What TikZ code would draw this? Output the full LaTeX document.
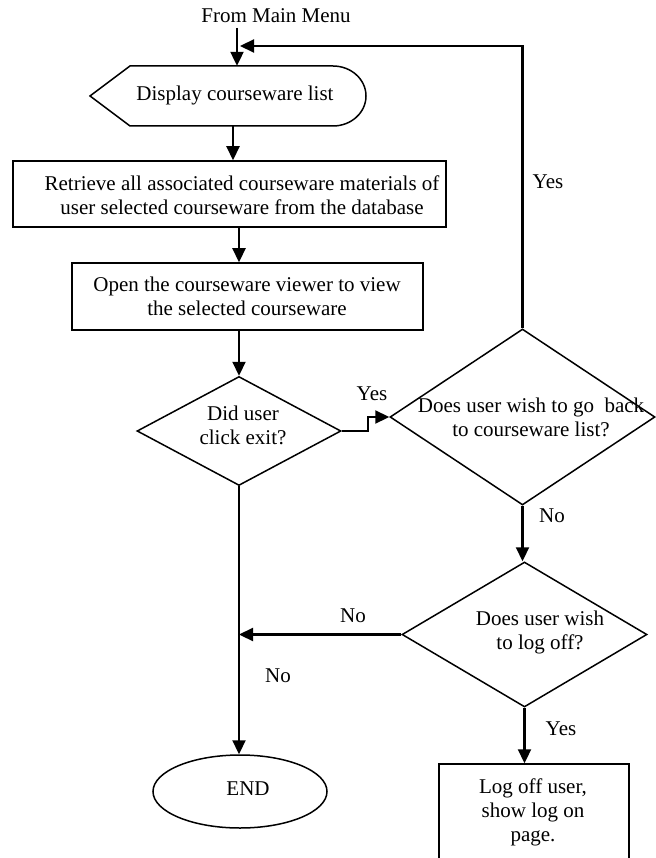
\documentclass[tikz,border=0pt]{standalone}
\usepackage{fontspec}
\setmainfont{Liberation Serif}
\usetikzlibrary{shapes.geometric,arrows.meta}

\begin{document}
\begin{tikzpicture}[x=1pt,y=-1pt,
  font=\fontsize{21}{24}\selectfont,
  outline/.style={draw, line width=1.5pt, inner sep=0pt},
  flowbox/.style={outline, rectangle},
  decision/.style={outline, diamond},
  terminal/.style={outline, ellipse},
  txt/.style={inner sep=0pt, align=center},
  lbl/.style={inner sep=0pt, anchor=base},
  conn/.style={line width=2.2pt, -{Triangle[length=14pt,width=13pt]}},
]
\useasboundingbox (0,0) rectangle (655,858);

% ---- shapes ----
\node[inner sep=0pt, minimum width=276pt, minimum height=60pt] (disp) at (228,96) {};
\draw[line width=1.5pt, line join=miter]
  (90,96) -- (130,66) -- (333,66)
  .. controls (351.2,66) and (366,79.4) .. (366,96)
  .. controls (366,112.6) and (351.2,126) .. (333,126)
  -- (130,126) -- cycle;

\node[flowbox, minimum width=433pt, minimum height=66pt] (box1) at (229.5,194) {};
\node[flowbox, minimum width=351pt, minimum height=67pt] (box2) at (247.5,296.5) {};
\node[decision, minimum width=204pt, minimum height=109pt] (d1) at (239,431) {};
\node[decision, minimum width=265pt, minimum height=176pt] (d2) at (522.5,417) {};
\node[decision, minimum width=245pt, minimum height=145pt] (d3) at (524.5,634.5) {};
\node[terminal, minimum width=174pt, minimum height=73pt] (end) at (240,791.5) {};
\node[flowbox, minimum width=190pt, minimum height=96pt] (logoff) at (534,812) {};

% ---- texts ----
\node[lbl] (from) at (276,23) {From Main Menu};
\node[lbl] (disptext) at (235,101) {Display courseware list};
\node[txt] (box1text) at (242,198.1)
  {\strut Retrieve all associated courseware materials of\\
   \strut user selected courseware from the database};
\node[txt] (box2text) at (247,298.8)
  {\strut Open the courseware viewer to view\\
   \strut the selected courseware};
\node[txt] (d1text) at (243,428)
  {\strut Did user\\ \strut click exit?};
\node[txt] (d2text) at (531,419.6)
  {\strut Does user wish to go~ back\\ \strut to courseware list?};
\node[txt] (d3text) at (540,633)
  {\strut Does user wish\\ \strut to log off?};
\node[lbl] (endtext) at (248,795) {END};
\node[txt] (logofftext) at (533,813)
  {\strut Log off user,\\ \strut show log on\\ \strut page.};

% ---- connector labels ----
\node[lbl] (yes1) at (372,400) {Yes};
\node[lbl] (yes2) at (548,189) {Yes};
\node[lbl] (no1) at (552,522) {No};
\node[lbl] (no2) at (353,622) {No};
\node[lbl] (no3) at (278,682) {No};
\node[lbl] (yes3) at (561,735) {Yes};

% ---- connectors ----
\coordinate (entry) at (237,28);
\coordinate (back) at (240,46);
\draw[conn] (entry) -- (entry |- disp.north);
\draw[conn] (d2.north) |- (back);
\draw[conn] ([xshift=5pt]disp.south) -- ([xshift=5pt]disp.south |- box1.north);
\draw[conn] ([xshift=9.5pt]box1.south) -- ([xshift=9.5pt]box1.south |- box2.north);
\draw[conn] (d1.north |- box2.south) -- (d1.north);
\draw[conn] (d1.south) -- (d1.south |- end.north);
\draw[conn] (d1.east) -- ++(26,0) |- (d2.west);
\draw[conn] (d2.south) -- (d2.south |- d3.north);
\draw[conn] (d3.west) -- (d3.west -| d1.south);
\draw[conn] (d3.south) -- (d3.south |- logoff.north);
\end{tikzpicture}
\end{document}
